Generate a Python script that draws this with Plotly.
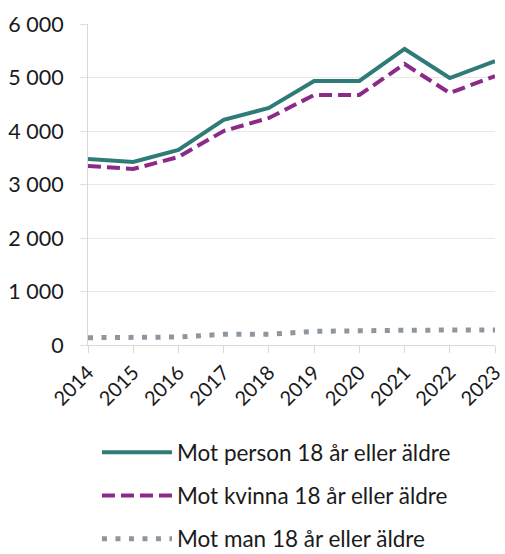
import plotly.graph_objects as go

years = ["2014", "2015", "2016", "2017", "2018", "2019", "2020", "2021", "2022", "2023"]
person = [3476, 3420, 3645, 4210, 4430, 4935, 4935, 5533, 4990, 5308]
kvinna = [3346, 3290, 3514, 4000, 4243, 4673, 4673, 5252, 4710, 5028]
man = [136, 140, 150, 200, 200, 255, 255, 275, 280, 280]

names = ["Mot person 18 år eller äldre", "Mot kvinna 18 år eller äldre", "Mot man 18 år eller äldre"]
tickvals = [0, 1000, 2000, 3000, 4000, 5000, 6000]
ticktext = ["0", "1 000", "2 000", "3 000", "4 000", "5 000", "6 000"]

fig = go.Figure()
fig.add_trace(go.Scatter(x=years, y=person, mode="lines", name=names[0], legendgroup="a",
                         line=dict(color="#2f7b78", width=4)))
fig.add_trace(go.Scatter(x=years, y=kvinna, mode="lines", name=names[1], legendgroup="b",
                         line=dict(color="#8b2a89", width=4, dash="13px,6px")))
fig.add_trace(go.Scatter(x=years, y=man, mode="lines", name=names[2], legendgroup="c",
                         line=dict(color="#8e979f", width=5, dash="5px,8.5px")))

fig.update_layout(
    width=505, height=554,
    margin=dict(l=88, r=10, t=24, b=209),
    paper_bgcolor="white", plot_bgcolor="white",
    font=dict(family="Lato, Carlito, sans-serif", size=21, color="#1a1a1a"),
    showlegend=True,
    legend=dict(x=0.022, y=0.222, xref="paper", yref="container", xanchor="left", yanchor="top",
                orientation="v", tracegroupgap=11, itemwidth=70, font=dict(size=22.5)),
    xaxis=dict(type="category", range=[0, 9], tickangle=-45, ticks="outside", ticklen=7,
               tickcolor="#d9d9d9", showline=True, linecolor="#d9d9d9", linewidth=1,
               showgrid=False, tickfont=dict(size=20), automargin=False),
    yaxis=dict(range=[0, 6000], tickvals=tickvals, ticktext=ticktext, showgrid=True,
               gridcolor="#e8e8e8", gridwidth=1, showline=True, linecolor="#d9d9d9",
               zeroline=False, ticks="outside", ticklen=7, tickcolor="#e0e0e0",
               ticklabelstandoff=12, tickfont=dict(size=21.5), automargin=False),
)
fig.write_html("out.html", config={"displayModeBar": False},
               post_script="document.body.style.margin='0';")
